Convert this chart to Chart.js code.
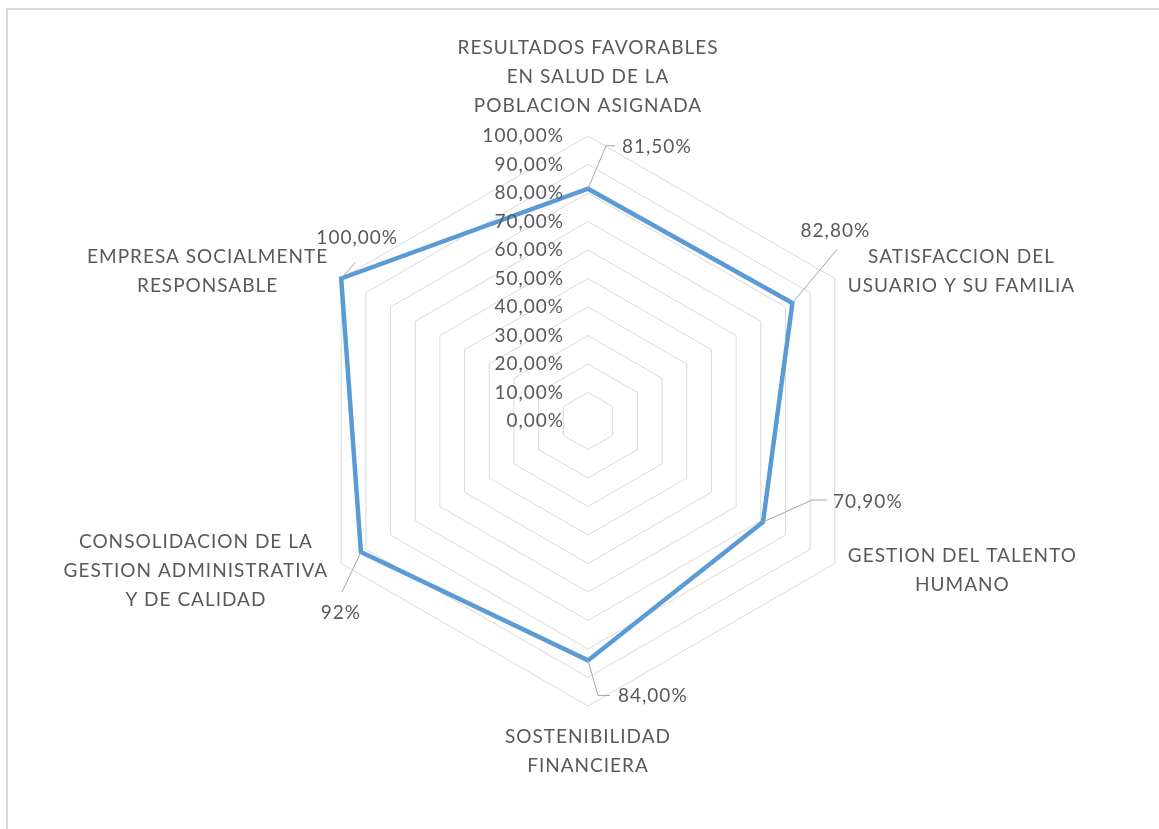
<!DOCTYPE html>
<html>
<head>
<meta charset="utf-8">
<script src="https://cdn.jsdelivr.net/npm/chart.js@4/dist/chart.umd.min.js"></script>
<style>
  html, body { margin: 0; padding: 0; background: #fff; overflow: hidden; }
  #frame { position: absolute; left: 6px; top: 8px; width: 1200px; height: 900px;
           border-top: 2px solid #d9d9d9; border-left: 2px solid #d9d9d9; }
  #chart { position: absolute; left: 0; top: 0; }
</style>
</head>
<body>
<div id="frame"></div>
<canvas id="chart" width="1159" height="829"></canvas>
<script>
// --- datos del gráfico ---
const categorias = [
    ['RESULTADOS FAVORABLES', 'EN SALUD DE LA', 'POBLACION ASIGNADA'],
    ['SATISFACCION DEL', 'USUARIO Y SU FAMILIA'],
    ['GESTION DEL TALENTO', 'HUMANO'],
    ['SOSTENIBILIDAD', 'FINANCIERA'],
    ['CONSOLIDACION DE LA', 'GESTION ADMINISTRATIVA', 'Y DE CALIDAD'],
    ['EMPRESA SOCIALMENTE', 'RESPONSABLE']
];
const valores = [81.5, 82.8, 70.9, 84.0, 92.0, 100.0];
const etiquetasValor = ['81,50%', '82,80%', '70,90%', '84,00%', '92%', '100,00%'];
const ejeMax = 100;
const ejePaso = 10;

// --- estilos ---
const colores = {
    linea: '#5b9bd5',
    grid: '#d9d9d9',
    texto: '#595959',
    guia: '#a6a6a6'
};
const FUENTE = '19px Lato, "Open Sans", sans-serif';
const ESPACIADO = '1px';
const ALTO_LINEA = 29;

// posición de las etiquetas de datos respecto a cada punto (líneas guía)
const guiasDatos = [
    { ruta: [[18, -43], [27, -43]], texto: [34, -42], align: 'left' },
    { ruta: [[45, -54]], texto: [43, -72], align: 'center' },
    { ruta: [[49, -22], [64, -22]], texto: [70, -20], align: 'left' },
    { ruta: [[10, 35], [22, 35]], texto: [30, 35], align: 'left' },
    { ruta: [[-19, 40]], texto: [-20, 61], align: 'center' },
    { ruta: [[14, -16]], texto: [16, -41], align: 'center' }
];

function formatoTick(v) {
    return v.toFixed(2).replace('.', ',') + '%';
}

const overlay = {
    id: 'overlay',
    afterDraw(chart) {
        const ctx = chart.ctx;
        const r = chart.scales.r;
        ctx.save();
        ctx.font = FUENTE;
        ctx.letterSpacing = ESPACIADO;
        ctx.fillStyle = colores.texto;
        ctx.textBaseline = 'middle';

        // etiquetas del eje
        ctx.textAlign = 'right';
        r.ticks.forEach(t => {
            const d = r.getDistanceFromCenterForValue(t.value);
            ctx.fillText(formatoTick(t.value), r.xCenter - 24, r.yCenter - d);
        });

        // etiquetas de categorías
        ctx.textAlign = 'center';
        categorias.forEach((lineas, i) => {
            const p = r.getPointPosition(i, r.drawingArea);
            const c = Math.cos(p.angle), s = Math.sin(p.angle);
            const ancho = Math.max(...lineas.map(l => ctx.measureText(l).width));
            const alto = lineas.length * ALTO_LINEA;
            let cx = p.x, cy = p.y;
            if (c > 0.1) cx = p.x + 13 + ancho / 2;
            else if (c < -0.1) cx = p.x - 13 - ancho / 2;
            if (s < -0.9) cy = p.y - 16 - alto / 2;
            else if (s > 0.9) cy = p.y + 16 + alto / 2;
            else cy = p.y + (s > 0 ? 7 : -7);
            lineas.forEach((l, k) => {
                ctx.fillText(l, cx, cy - alto / 2 + ALTO_LINEA * (k + 0.5));
            });
        });

        // etiquetas de datos con líneas guía
        const meta = chart.getDatasetMeta(0);
        meta.data.forEach((pt, i) => {
            const g = guiasDatos[i];
            ctx.strokeStyle = colores.guia;
            ctx.lineWidth = 1;
            ctx.beginPath();
            ctx.moveTo(pt.x, pt.y);
            g.ruta.forEach(([dx, dy]) => ctx.lineTo(pt.x + dx, pt.y + dy));
            ctx.stroke();
            ctx.textAlign = g.align;
            ctx.fillText(etiquetasValor[i], pt.x + g.texto[0], pt.y + g.texto[1]);
        });
        ctx.restore();
    }
};

new Chart(document.getElementById('chart'), {
    type: 'radar',
    data: {
        labels: categorias,
        datasets: [{
            data: valores,
            borderColor: colores.linea,
            borderWidth: 4.5,
            pointRadius: 0,
            pointHoverRadius: 0,
            fill: false,
            tension: 0
        }]
    },
    options: {
        responsive: false,
        animation: false,
        devicePixelRatio: 1,
        layout: { padding: { left: 303, right: 286, top: 136, bottom: 123 } },
        plugins: { legend: { display: false }, tooltip: { enabled: false } },
        scales: {
            r: {
                min: 0,
                max: ejeMax,
                ticks: { stepSize: ejePaso, display: false },
                grid: { color: colores.grid, lineWidth: 1 },
                angleLines: { display: false },
                pointLabels: { display: false }
            }
        }
    },
    plugins: [overlay]
});
</script>
</body>
</html>
